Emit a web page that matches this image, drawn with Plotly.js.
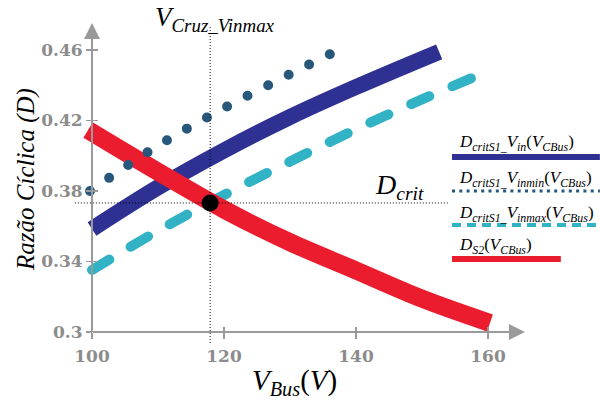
<!DOCTYPE html>
<html>
<head>
<meta charset="utf-8">
<script src="https://cdn.plot.ly/plotly-3.0.1.min.js"></script>
<style>html,body{margin:0;padding:0;background:#fff;}</style>
</head>
<body>
<div id="chart" style="width:600px;height:403px;"></div>
<script>
// ---- data ----
const vinX    = [100, 110, 120, 130, 140, 152.6];
const vinY    = [0.3584, 0.382, 0.403, 0.422, 0.439, 0.459];
const vinminX = [99.7, 110, 120, 130, 136.1];
const vinminY = [0.380, 0.4057, 0.427, 0.4463, 0.4577];
const vinmaxX = [100, 110, 120, 130, 140, 150, 160.5];
const vinmaxY = [0.3352, 0.3574, 0.3777, 0.3967, 0.415, 0.432, 0.4487];
const ds2X    = [99.4, 110, 120, 130, 140, 150, 160.3];
const ds2Y    = [0.4146, 0.3909, 0.3695, 0.3509, 0.3349, 0.3189, 0.3051];
const crossX  = [117.9];
const crossY  = [0.3732];
const xTickVals = [100, 120, 140, 160];
const xTickText = ['100', '120', '140', '160'];
const yTickVals = [0.3, 0.34, 0.38, 0.42, 0.46];
const yTickText = ['0.3', '0.34', '0.38', '0.42', '0.46'];
const legendNames = [
  '<i>D<sub>critS1_</sub>V<sub>in</sub></i>(<i>V<sub>CBus</sub></i>)',
  '<i>D<sub>critS1_</sub>V<sub>inmin</sub></i>(<i>V<sub>CBus</sub></i>)',
  '<i>D<sub>critS1_</sub>V<sub>inmax</sub></i>(<i>V<sub>CBus</sub></i>)',
  '<i>D<sub>S2</sub></i>(<i>V<sub>CBus</sub></i>)'
];

// ---- styles ----
const cNavy = '#2e3192', cDot = '#27587c', cCyan = '#31b3c5', cRed = '#ec1c2f', cAxis = '#9a9a9a';
const xRange = [96.06, 170];
const yRange = [0.2926, 0.4827];
const xAxPos = (yTickVals[0] - yRange[0]) / (yRange[1] - yRange[0]);
const yAxPos = (xTickVals[0] - xRange[0]) / (xRange[1] - xRange[0]);
const serif = '"Liberation Serif", "DejaVu Serif", serif';
const tickFont = {family: '"DejaVu Serif", serif', size: 17, color: '#8c8c8c', weight: 'bold'};
const dotCount = 12;

const traces = [
  {x: vinX, y: vinY, mode: 'lines', name: 'vin', line: {color: cNavy, width: 16, shape: 'spline', smoothing: 1}, showlegend: false},
  {x: vinmaxX, y: vinmaxY, mode: 'lines', name: 'vinmax', line: {color: cCyan, width: 10, dash: '20px,25px', shape: 'spline', smoothing: 1}, showlegend: false},
  {x: ds2X, y: ds2Y, mode: 'lines', name: 'ds2', line: {color: cRed, width: 18, shape: 'spline', smoothing: 1}, showlegend: false},
  {x: vinminX, y: vinminY, mode: 'lines', name: 'vinmin', line: {color: cDot, width: 10, dash: '0px,23.2px', shape: 'spline', smoothing: 1}, showlegend: false},
  {x: crossX, y: crossY, mode: 'markers', name: 'cross', marker: {color: '#000', size: 17}, showlegend: false},
  {x: [], y: [], xaxis: 'x2', yaxis: 'y2', mode: 'lines', showlegend: false, hoverinfo: 'skip'}
];

const legYs = [0.561, 0.4597, 0.3582, 0.2567];
const legTextYs = [0.603, 0.4955, 0.391, 0.2955];
const legStyles = [
  {color: cNavy, width: 6},
  {color: cDot, width: 3, dash: '3px,4.3px'},
  {color: cCyan, width: 4, dash: '9px,6px'},
  {color: cRed, width: 6}
];
const legX1 = [1.094, 1.094, 1.094, 1.014];

const shapes = [
  {type: 'line', xref: 'x', yref: 'y', x0: crossX[0], x1: crossX[0], y0: 0.2937, y1: 0.4735,
   line: {color: '#000', width: 1, dash: '1px,2px'}},
  {type: 'line', xref: 'x', yref: 'y', x0: 97.4, x1: 153.9, y0: crossY[0], y1: crossY[0],
   line: {color: '#000', width: 1, dash: '1px,2px'}}
];
legStyles.forEach((s, i) => {
  shapes.push({type: 'line', xref: 'paper', yref: 'paper', x0: 0.791, x1: legX1[i], y0: legYs[i], y1: legYs[i], line: s});
});

const annotations = [
  {xref: 'x', yref: 'y', axref: 'x', ayref: 'y', x: xTickVals[0], y: 0.4753, ax: xTickVals[0], ay: yTickVals[0],
   text: '', showarrow: true, arrowhead: 2, arrowsize: 1.6, arrowwidth: 2, arrowcolor: cAxis},
  {xref: 'x', yref: 'y', axref: 'x', ayref: 'y', x: 165.6, y: yTickVals[0], ax: xTickVals[0], ay: yTickVals[0],
   text: '', showarrow: true, arrowhead: 2, arrowsize: 1.6, arrowwidth: 2, arrowcolor: cAxis},
  {xref: 'paper', yref: 'paper', x: -0.082, y: 0.4955, xanchor: 'center', yanchor: 'middle', showarrow: false,
   textangle: -90, text: '<i>Razão Cíclica (D)</i>', font: {family: serif, size: 25, color: '#000'}},
  {xref: 'paper', yref: 'paper', x: 0.469, y: -0.11, xanchor: 'center', yanchor: 'middle', showarrow: false,
   text: '<i>V<sub>Bus</sub></i>(<i>V</i>)', font: {family: serif, size: 29, color: '#000'}},
  {xref: 'paper', yref: 'paper', x: 0.305, y: 0.972, xanchor: 'center', yanchor: 'middle', showarrow: false,
   text: '<i>V<sub>Cruz_Vinmax</sub></i>', font: {family: serif, size: 27, color: '#000'}},
  {xref: 'paper', yref: 'paper', x: 0.684, y: 0.472, xanchor: 'center', yanchor: 'middle', showarrow: false,
   text: '<i>D<sub>crit</sub></i>', font: {family: serif, size: 28, color: '#000'}}
];
legendNames.forEach((t, i) => {
  annotations.push({xref: 'paper', yref: 'paper', x: 0.801, y: legTextYs[i], xanchor: 'left', yanchor: 'middle',
    showarrow: false, text: t, font: {family: serif, size: 17, color: '#000'}});
});

const layout = {
  width: 600, height: 403,
  margin: {l: 66, r: 46, t: 10, b: 58},
  paper_bgcolor: '#fff', plot_bgcolor: '#fff',
  showlegend: false,
  xaxis: {range: xRange, anchor: 'free', position: xAxPos, showgrid: false, zeroline: false, showline: false,
          tickmode: 'array', tickvals: xTickVals, ticktext: xTickText, ticks: 'outside', ticklen: 6,
          tickwidth: 1.5, tickcolor: cAxis, tickfont: tickFont, ticklabelstandoff: 3},
  yaxis: {range: yRange, anchor: 'free', position: yAxPos, showgrid: false, zeroline: false, showline: false,
          tickmode: 'array', tickvals: yTickVals, ticktext: yTickText, ticks: 'outside', ticklen: 6,
          tickwidth: 1.5, tickcolor: cAxis, tickfont: tickFont},
  xaxis2: {range: xRange, overlaying: 'x', anchor: 'free', position: xAxPos, showgrid: false, zeroline: false,
           showline: false, tickmode: 'array', tickvals: xTickVals, ticks: 'inside', ticklen: 5, tickwidth: 1.5,
           tickcolor: cAxis, showticklabels: false},
  yaxis2: {range: yRange, overlaying: 'y', anchor: 'free', position: yAxPos, showgrid: false, zeroline: false,
           showline: false, tickmode: 'array', tickvals: yTickVals, ticks: 'inside', ticklen: 5, tickwidth: 1.5,
           tickcolor: cAxis, showticklabels: false},
  shapes: shapes,
  annotations: annotations
};

Plotly.newPlot('chart', traces, layout, {staticPlot: true, displayModeBar: false}).then(function () {
  const tr = document.querySelectorAll('.scatterlayer .trace');
  [1, 3].forEach(function (i) {
    if (tr[i]) tr[i].querySelectorAll('path.js-line').forEach(function (p) { p.style.strokeLinecap = 'round'; });
  });
  if (tr[3]) {
    const p = tr[3].querySelector('path.js-line');
    if (p && p.getTotalLength) {
      const L = p.getTotalLength();
      const gap = Math.floor((L - 0.5) / dotCount * 1000) / 1000;
      p.style.strokeDasharray = '0px,' + gap + 'px';
    }
  }
});
</script>
</body>
</html>
